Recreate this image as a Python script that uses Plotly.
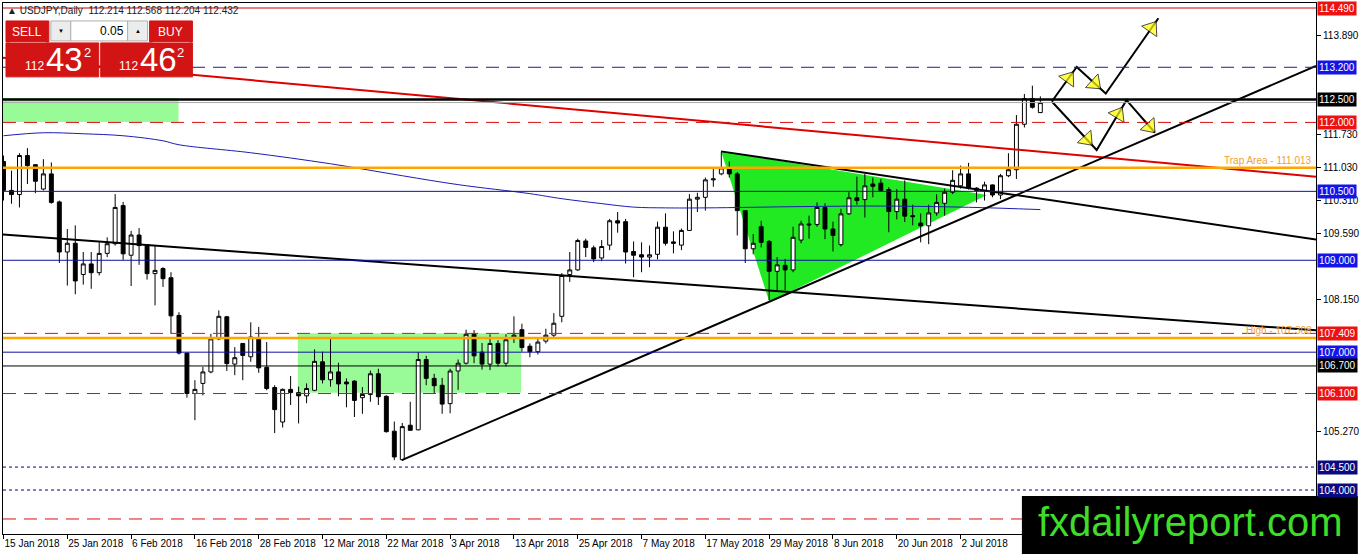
import plotly.graph_objects as go
import pandas as pd

# daily bars, USDJPY
dates = pd.bdate_range("2018-01-15", periods=131)
opens = [111.15, 110.52, 110.43, 111.28, 111.08, 110.55, 110.88, 110.27, 109.18, 109.37,
         108.69, 108.92, 108.73, 109.15, 109.36, 110.19, 109.11, 109.55, 109.34, 108.71,
         108.82, 108.62, 107.80, 106.98, 106.10, 106.32, 106.57, 107.29, 107.77, 106.74,
         107.19, 106.90, 107.30, 106.67, 106.23, 105.48, 106.19, 106.12, 106.05, 106.17,
         106.79, 106.40, 106.57, 106.35, 106.37, 106.01, 106.08, 106.53, 106.04, 105.28,
         104.66, 105.41, 105.31, 106.84, 106.43, 106.28, 105.88, 106.59, 106.76, 107.39,
         107.00, 106.74, 107.19, 106.76, 107.33, 107.49, 107.13, 107.01, 107.24, 107.37,
         107.78, 108.69, 108.79, 109.42, 109.27, 109.05, 109.33, 109.86, 109.84, 109.19,
         109.12, 109.07, 109.13, 109.72, 109.40, 109.33, 109.65, 110.33, 110.37, 110.75,
         110.88, 110.99, 110.88, 110.08, 109.25, 109.73, 109.41, 108.76, 108.89, 108.79,
         109.44, 109.79, 109.78, 110.15, 109.68, 109.34, 110.01, 110.36, 110.32, 110.66,
         110.68, 110.54, 110.06, 110.33, 109.97, 109.81, 109.75, 110.03, 110.24, 110.48,
         110.62, 110.88, 110.57, 110.52, 110.64, 110.42, 110.84, 110.97, 111.96, 112.52,
         112.214]
highs = [111.28, 110.95, 111.33, 111.44, 111.09, 111.20, 111.13, 110.30, 109.68, 109.76,
         109.18, 109.18, 109.39, 109.50, 110.44, 110.27, 109.64, 109.70, 109.35, 109.32,
         108.85, 108.74, 107.87, 106.99, 106.39, 106.68, 107.40, 107.91, 107.79, 107.11,
         107.20, 107.65, 107.55, 107.22, 106.28, 106.21, 106.48, 106.25, 106.32, 107.06,
         107.01, 107.29, 106.77, 106.43, 106.39, 106.24, 106.60, 106.64, 106.06, 105.49,
         105.46, 105.92, 107.00, 106.92, 106.53, 106.44, 106.64, 106.84, 107.49, 107.48,
         107.20, 107.39, 107.26, 107.39, 107.78, 107.62, 107.19, 107.29, 107.51, 107.85,
         108.72, 109.18, 109.47, 109.47, 109.32, 109.44, 109.90, 110.05, 109.90, 109.41,
         109.39, 109.32, 109.84, 110.02, 109.63, 109.69, 110.44, 110.47, 110.80, 111.02,
         111.36, 111.15, 110.92, 110.09, 109.57, 109.86, 109.44, 109.07, 109.03, 109.73,
         109.86, 109.97, 110.26, 110.24, 109.84, 110.12, 110.48, 110.82, 110.88, 110.80,
         110.77, 110.59, 110.55, 110.74, 110.21, 110.02, 110.21, 110.44, 110.56, 110.96,
         111.06, 111.12, 110.59, 110.71, 110.65, 110.88, 111.33, 112.16, 112.62, 112.80,
         112.568]
lows = [110.30, 110.23, 110.15, 110.66, 110.46, 110.52, 110.23, 108.94, 108.45, 108.26,
        108.47, 108.38, 108.67, 109.07, 109.32, 109.01, 108.44, 108.90, 108.58, 108.02,
        108.42, 107.40, 106.95, 106.01, 105.52, 106.06, 106.54, 107.26, 106.59, 106.50,
        106.39, 106.79, 106.55, 106.17, 105.24, 105.36, 105.85, 105.45, 105.89, 106.15,
        106.32, 106.25, 106.04, 105.80, 105.59, 105.66, 105.92, 105.85, 105.25, 104.65,
        104.64, 105.29, 105.30, 106.28, 106.10, 105.66, 105.67, 106.18, 106.73, 106.76,
        106.62, 106.61, 106.69, 106.69, 107.20, 107.01, 106.89, 106.95, 107.19, 107.33,
        107.65, 108.53, 108.77, 109.07, 108.96, 108.98, 109.22, 109.60, 108.93, 108.63,
        108.74, 108.85, 109.02, 109.32, 109.15, 109.22, 109.64, 110.05, 110.08, 110.60,
        110.85, 110.80, 109.54, 108.94, 109.13, 109.28, 108.13, 108.35, 108.35, 108.74,
        109.37, 109.47, 109.73, 109.46, 109.19, 109.30, 109.99, 110.21, 109.93, 110.37,
        110.49, 109.61, 109.89, 109.83, 109.76, 109.39, 109.35, 109.97, 109.97, 110.44,
        110.56, 110.54, 110.26, 110.30, 110.37, 110.33, 110.81, 110.77, 111.89, 112.30,
        112.204]
closes = [110.52, 110.43, 111.28, 111.06, 110.72, 110.88, 110.26, 109.18, 109.37, 108.55,
          108.92, 108.73, 109.15, 109.36, 110.15, 109.14, 109.55, 109.32, 108.71, 108.78,
          108.60, 107.79, 106.98, 106.10, 106.19, 106.57, 107.29, 107.78, 106.75, 106.88,
          106.93, 107.33, 106.66, 106.21, 105.75, 106.19, 106.12, 106.05, 106.21, 106.80,
          106.40, 106.57, 106.31, 106.31, 105.95, 106.08, 106.53, 106.03, 105.27, 104.72,
          105.38, 105.30, 106.84, 106.43, 106.27, 105.87, 106.59, 106.76, 107.39, 106.92,
          106.74, 107.19, 106.76, 107.27, 107.37, 107.10, 107.01, 107.22, 107.37, 107.63,
          108.67, 108.79, 109.43, 109.28, 109.03, 109.30, 109.86, 109.81, 109.18, 109.11,
          109.07, 109.12, 109.72, 109.37, 109.37, 109.65, 110.33, 110.37, 110.75, 110.77,
          111.01, 110.88, 110.08, 109.25, 109.37, 109.39, 108.76, 108.90, 108.79, 109.50,
          109.79, 109.77, 110.15, 109.68, 109.54, 110.01, 110.36, 110.30, 110.62, 110.61,
          110.52, 110.06, 110.33, 109.96, 109.95, 109.75, 110.03, 110.26, 110.48, 110.74,
          110.88, 110.57, 110.52, 110.64, 110.42, 110.84, 110.97, 111.96, 112.52, 112.33,
          112.432]

# moving average, sampled from the blue curve
ma_idx = [0, 5, 10, 15, 20, 22, 31, 41, 50, 57, 66, 70, 75, 79, 83, 88, 100, 110, 121, 130]
ma_val = [111.71, 111.775, 111.753, 111.71, 111.60, 111.514, 111.34, 111.10, 110.84, 110.646,
          110.45, 110.34, 110.233, 110.157, 110.14, 110.14, 110.168, 110.18, 110.153, 110.103]

axis_ticks = [113.89, 111.73, 111.03, 110.31, 109.59, 108.15, 105.27]

# horizontal objects
level_prices = [114.49, 113.2, 112.5, 112.432, 112.0, 111.013, 110.5, 109.0,
                107.409, 107.308, 107.0, 106.7, 106.1, 104.5, 104.0, 103.37]
level_styles = ["red", "bluedash", "blackthick", "bid", "reddash", "orange", "blue", "blue",
                "reddash", "orange", "blue", "black", "reddash", "navydot", "navydot", "reddash"]
label_prices = [114.49, 113.2, 112.5, 112.0, 110.5, 109.0, 107.409, 107.0, 106.7, 106.1, 104.5, 104.0]
label_colors = ["red", "blue", "black", "red", "blue", "blue", "red", "blue", "black", "red", "navy", "navy"]

# trend lines (bar index, price)
red_line_x, red_line_y = [-0.06, 164.56], [113.41, 110.82]
down_line_x, down_line_y = [-0.06, 164.56], [109.56, 107.475]
support_x, support_y = [49.94, 164.56], [104.65, 113.23]
tri_top_x, tri_top_y = [89.97, 164.56], [111.37, 109.45]
tri_x, tri_y = [89.97, 96.03, 123.3], [111.37, 108.09, 110.42]
zone1_x, zone1_y = [-0.06, 21.94], [112.01, 112.53]
zone2_x, zone2_y = [36.9, 64.9], [106.117, 107.41]

# scenario arrows
up_path = [(131.44, 112.455), (134.56, 113.208), (138.2, 112.629), (144.8, 114.266)]
down_path = [(131.44, 112.455), (137.06, 111.399), (140.8, 112.485), (144.35, 111.78)]
up_heads = [0.67, 0.62, 0.87]
down_heads = [0.78, 0.72, 0.82]

W, H = 1362, 554
L, R, T, B = 3, 42, 2, 20
PW, PH = W - L - R, H - T - B


def fx(px):
    return (px - L) / PW


def fy(py):
    return (H - B - py) / PH


style_map = {
    "red": dict(color="#d00000", width=1),
    "bluedash": dict(color="#1a1aa0", width=1, dash="13px,8px"),
    "blackthick": dict(color="black", width=2.5),
    "bid": dict(color="#a8a8a8", width=1),
    "reddash": dict(color="#d81010", width=1, dash="13px,8px"),
    "orange": dict(color="#ffa500", width=2.5),
    "blue": dict(color="#1010a0", width=1),
    "black": dict(color="black", width=1),
    "navydot": dict(color="#000080", width=1, dash="3px,3px"),
}
label_bg = {"red": "#ee1111", "blue": "#1414e8", "black": "#000000", "navy": "#0a0a80"}

fig = go.Figure()

# background zones
for zx, zy in [(zone1_x, zone1_y), (zone2_x, zone2_y)]:
    fig.add_shape(type="rect", x0=zx[0], x1=zx[1], y0=zy[0], y1=zy[1],
                  fillcolor="#98fb98", line_width=0, layer="below")

tri_path = "M " + " L ".join(f"{a},{b}" for a, b in zip(tri_x, tri_y)) + " Z"
fig.add_shape(type="path", path=tri_path, fillcolor="#22ea22", line_width=0, layer="below")

fig.add_trace(go.Candlestick(
    x=list(range(len(dates))), open=opens, high=highs, low=lows, close=closes,
    increasing=dict(fillcolor="white", line=dict(color="black", width=1)),
    decreasing=dict(fillcolor="black", line=dict(color="black", width=1)),
    whiskerwidth=0))

fig.add_trace(go.Scatter(x=ma_idx, y=ma_val, mode="lines", line=dict(color="#1c1cb4", width=1, shape="spline")))

for p, s in zip(level_prices, level_styles):
    fig.add_shape(type="line", xref="paper", x0=0, x1=1, y0=p, y1=p, line=style_map[s], layer="above")

for lx, ly, col in [(red_line_x, red_line_y, "#e00000"), (down_line_x, down_line_y, "black"),
                    (support_x, support_y, "black"), (tri_top_x, tri_top_y, "black")]:
    fig.add_trace(go.Scatter(x=lx, y=ly, mode="lines", line=dict(color=col, width=2)))

for path, heads in [(up_path, up_heads), (down_path, down_heads)]:
    xs, ys = zip(*path)
    fig.add_trace(go.Scatter(x=list(xs), y=list(ys), mode="lines", line=dict(color="black", width=2)))
    for k, f in enumerate(heads):
        x0, y0 = path[k]
        x1, y1 = path[k + 1]
        hx, hy = x0 + f * (x1 - x0), y0 + f * (y1 - y0)
        fig.add_trace(go.Scatter(
            x=[x0, hx], y=[y0, hy], mode="markers",
            marker=dict(symbol="triangle-up", size=[0, 16], angleref="previous", color="#ffff00",
                        line=dict(color="black", width=[0, 1]))))

ann = []
for p, c in zip(label_prices, label_colors):
    ann.append(dict(xref="paper", x=1, xanchor="left", xshift=1, y=p, yref="y", yanchor="middle",
                    text=f"{p:.3f}", showarrow=False, bgcolor=label_bg[c], borderpad=1,
                    font=dict(color="white", size=10)))
ann.append(dict(xref="paper", x=1, xanchor="right", xshift=-2, y=111.013, yanchor="bottom",
                text="Trap Area - 111.013", showarrow=False, font=dict(color="#f0a030", size=10)))
ann.append(dict(xref="paper", x=1, xanchor="right", xshift=-2, y=107.308, yanchor="bottom",
                text="High - 107.308", showarrow=False, font=dict(color="#f0a030", size=10)))

# header text
ann.append(dict(xref="paper", yref="paper", x=fx(5), y=fy(10), xanchor="left", yanchor="middle",
                text="\u25b2 USDJPY,Daily  112.214 112.568 112.204 112.432", showarrow=False,
                font=dict(color="#202020", size=10)))

# one-click trading panel
red = "#d21414"
panel = [
    (6, 20, 49, 41, red), (150, 20, 193, 41, red),
    (6, 42, 99, 76, red), (101, 42, 193, 76, red),
    (51, 20, 71, 40, "#ececec"), (71, 20, 128, 40, "white"), (128, 20, 148, 40, "#ececec"),
]
for x0, y0, x1, y1, col in panel:
    fig.add_shape(type="rect", xref="paper", yref="paper", x0=fx(x0), x1=fx(x1), y0=fy(y1), y1=fy(y0),
                  fillcolor=col, line=dict(color="#b0b0b0" if col != red else red, width=1), layer="above")
for x0, x1 in [(10, 46), (153, 190)]:
    fig.add_shape(type="line", xref="paper", yref="paper", x0=fx(x0), x1=fx(x1), y0=fy(41.5), y1=fy(41.5),
                  line=dict(color="#f08080", width=1), layer="above")

panel_text = [
    (27, 31, "SELL", 12, "white", "center"), (171, 31, "BUY", 12, "white", "center"),
    (61, 30, "\u25bc", 6, "black", "center"), (138, 30, "\u25b2", 6, "black", "center"),
    (126, 30, "0.05", 12, "black", "right"),
    (23, 65, "112", 12, "white", "left"), (44, 59, "43", 33, "white", "left"), (82, 52, "2", 13, "white", "left"),
    (117, 65, "112", 12, "white", "left"), (138, 59, "46", 33, "white", "left"), (176, 52, "2", 13, "white", "left"),
]
for x, y, t, s, c, a in panel_text:
    ann.append(dict(xref="paper", yref="paper", x=fx(x), y=fy(y), xanchor=a, yanchor="middle",
                    text=t, showarrow=False, font=dict(color=c, size=s)))

# watermark
fig.add_shape(type="rect", xref="paper", yref="paper", x0=fx(1025), x1=fx(1362), y0=fy(554), y1=fy(496),
              fillcolor="black", line_width=0, layer="above")
ann.append(dict(xref="paper", yref="paper", x=fx(1194), y=fy(522), xanchor="center", yanchor="middle",
                text="fxdailyreport.com", showarrow=False, font=dict(color="#3fdc2a", size=40)))

tick_idx = list(range(0, 121, 8))
tick_text = [f"{dates[i].day} {dates[i].strftime('%b %Y')}" for i in tick_idx]

fig.update_layout(
    width=W, height=H, margin=dict(l=L, r=R, t=T, b=B),
    paper_bgcolor="white", plot_bgcolor="white", showlegend=False,
    font=dict(family="Liberation Sans", size=10, color="black"),
    annotations=ann,
    xaxis=dict(range=[-0.0625, 164.5625], tickvals=tick_idx, ticktext=tick_text, tickangle=0,
               ticks="outside", ticklen=4, tickcolor="black", ticklabelposition="outside right",
               showgrid=False, zeroline=False, showline=True, linecolor="black", mirror=True,
               rangeslider=dict(visible=False), tickfont=dict(size=10)),
    yaxis=dict(range=[103.043, 114.599], side="right", tickvals=axis_ticks,
               ticktext=[f"{v:.3f}" for v in axis_ticks], ticks="outside", ticklen=4, tickcolor="black",
               showgrid=False, zeroline=False, showline=True, linecolor="black", mirror=True,
               tickfont=dict(size=10)),
)

fig.write_html("out.html", config={"displayModeBar": False},
               post_script="document.body.style.margin='0';")
